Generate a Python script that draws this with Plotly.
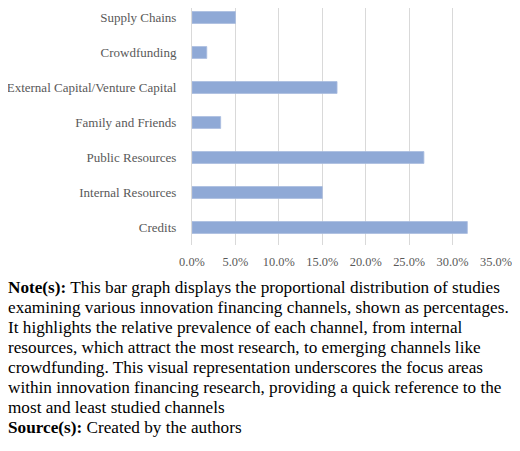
import plotly.graph_objects as go

# data (share of studies per financing channel)
channels = [
    "Credits",
    "Internal Resources",
    "Public Resources",
    "Family and Friends",
    "External Capital/Venture Capital",
    "Crowdfunding",
    "Supply Chains",
]
shares = [0.317, 0.150, 0.267, 0.033, 0.167, 0.017, 0.050]
tick_vals = [0, 0.05, 0.10, 0.15, 0.20, 0.25, 0.30, 0.35]

note_lines = [
    "<b>Note(s):</b> This bar graph displays the proportional distribution of studies",
    "examining various innovation financing channels, shown as percentages.",
    "It highlights the relative prevalence of each channel, from internal",
    "resources, which attract the most research, to emerging channels like",
    "crowdfunding. This visual representation underscores the focus areas",
    "within innovation financing research, providing a quick reference to the",
    "most and least studied channels",
    "<b>Source(s):</b> Created by the authors",
]

# the page puts the figure 8px in from the window edge (and 8px below it),
# so size it to fit without overflowing the window
OFF = 8
W, H = 520 - OFF, 451 - 2 * OFF
M_L, M_R, M_T = 192 - OFF, 24, 0
PLOT_H = 245 - OFF
M_B = H - M_T - PLOT_H
PLOT_W = W - M_L - M_R

SERIF = "Liberation Serif"
BAR = "#8FA9D6"
GRID = "#D9D9D9"
TICK = "#595959"

fig = go.Figure()

fig.add_trace(
    go.Bar(
        y=channels,
        x=shares,
        orientation="h",
        marker=dict(color=BAR, line=dict(color="#A9BCE0", width=0.8)),
        width=0.34,
        hovertemplate="<b>%{y}</b><br>%{x:.1%}<extra></extra>",
    )
)

# note block below the chart, one annotation per line
first_line_px = 287 - OFF
line_step = 20
for i, line in enumerate(note_lines):
    y_px = first_line_px + i * line_step
    fig.add_annotation(
        text=line,
        xref="paper",
        yref="paper",
        x=-M_L / PLOT_W,
        y=(M_T + PLOT_H - y_px) / PLOT_H,
        xanchor="left",
        yanchor="middle",
        showarrow=False,
        align="left",
        borderpad=0,
        borderwidth=0,
        font=dict(family=SERIF, size=17.2, color="#000000"),
    )

fig.update_layout(
    width=W,
    height=H,
    margin=dict(l=M_L, r=M_R, t=M_T, b=M_B, pad=0),
    paper_bgcolor="white",
    plot_bgcolor="white",
    font=dict(family=SERIF, color=TICK),
    showlegend=False,
)

fig.update_xaxes(
    range=[0, 0.35],
    tickvals=tick_vals,
    tickformat=".1%",
    automargin=False,
    showgrid=True,
    gridcolor=GRID,
    gridwidth=1,
    zeroline=False,
    showline=False,
    ticks="",
    ticklabelstandoff=8,
    tickfont=dict(family=SERIF, size=12.4, color=TICK),
)
fig.update_yaxes(
    range=[-0.5, len(channels) - 0.5 - OFF / 35],
    automargin=False,
    showgrid=False,
    zeroline=False,
    showline=True,
    linecolor=GRID,
    linewidth=1,
    ticks="",
    ticklabelstandoff=12,
    tickfont=dict(family=SERIF, size=13, color=TICK),
)

fig.write_html("out.html")
